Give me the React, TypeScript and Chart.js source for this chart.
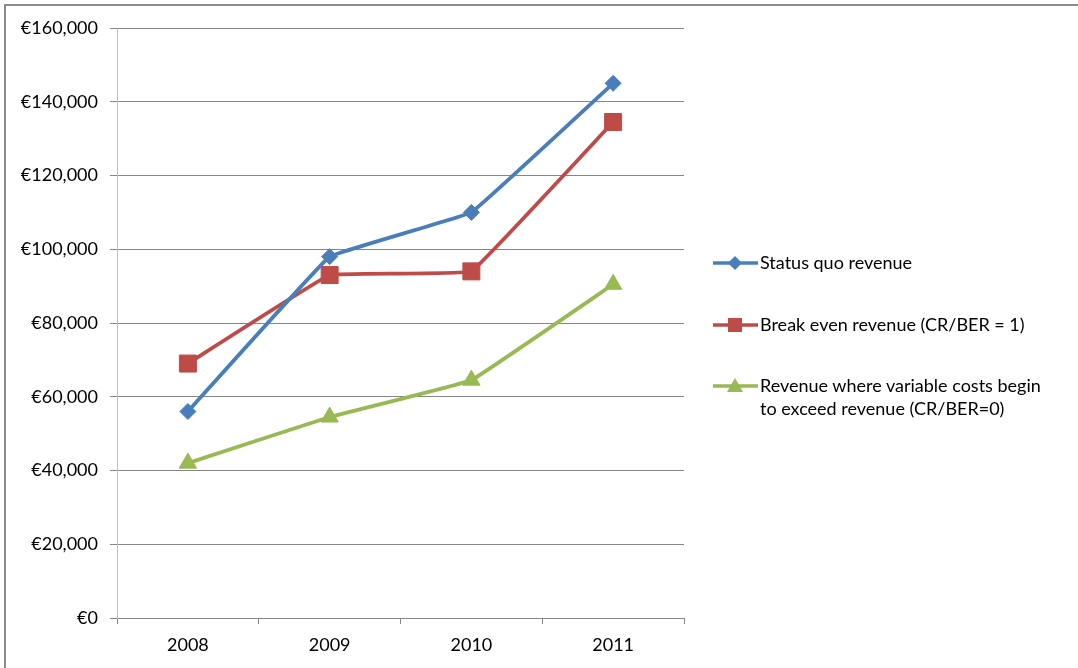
import React, { useEffect, useRef } from "react";
import { Chart, registerables } from "chart.js";

Chart.register(...registerables);

const categories = ["2008", "2009", "2010", "2011"];
const statusQuo = [56000, 98000, 110000, 145000];
const breakEven = [69000, 93000, 94000, 134500];
const variableCostsBegin = [42000, 54500, 64500, 90500];
const yTicks = [0, 20000, 40000, 60000, 80000, 100000, 120000, 140000, 160000];

const seriesNames = [
  "Status quo revenue",
  "Break even revenue (CR/BER = 1)",
  "Revenue where variable costs begin to exceed revenue (CR/BER=0)",
];
const colors = ["#4a7ebb", "#be4b48", "#98b954"];
const FONT = "Lato, 'Open Sans', sans-serif";

function LegendMarker({ kind, color }: { kind: string; color: string }) {
  return (
    <svg width={47} height={20} style={{ display: "block" }}>
      <line x1={0} y1={10} x2={45} y2={10} stroke={color} strokeWidth={3.5} />
      {kind === "diamond" && <polygon points="22,3 29,10 22,17 15,10" fill={color} />}
      {kind === "square" && <rect x={15} y={3} width={14} height={14} fill={color} />}
      {kind === "triangle" && <polygon points="22,2 30,16 14,16" fill={color} />}
    </svg>
  );
}

export default function App() {
  const canvasRef = useRef<HTMLCanvasElement | null>(null);

  useEffect(() => {
    document.body.style.margin = "0";
    const canvas = canvasRef.current;
    if (!canvas) return;
    const chart = new Chart(canvas, {
      type: "line",
      data: {
        labels: categories,
        datasets: [
          {
            label: seriesNames[0],
            data: statusQuo,
            borderColor: colors[0],
            backgroundColor: colors[0],
            borderWidth: 3.8,
            pointStyle: "rectRot",
            pointRadius: 8,
            pointBorderWidth: 1,
            tension: 0.05,
          },
          {
            label: seriesNames[1],
            data: breakEven,
            borderColor: colors[1],
            backgroundColor: colors[1],
            borderWidth: 3.8,
            pointStyle: "rect",
            pointRadius: 12,
            pointBorderWidth: 1,
            tension: 0.05,
          },
          {
            label: seriesNames[2],
            data: variableCostsBegin,
            borderColor: colors[2],
            backgroundColor: colors[2],
            borderWidth: 3.8,
            pointStyle: "triangle",
            pointRadius: 10,
            pointBorderWidth: 1,
            tension: 0.05,
          },
        ],
      },
      options: {
        responsive: false,
        animation: false,
        layout: { padding: { left: 0, right: 394, top: 28, bottom: 0 } },
        plugins: { legend: { display: false }, tooltip: { enabled: false } },
        scales: {
          x: {
            offset: true,
            grid: {
              offset: true,
              drawOnChartArea: false,
              drawTicks: true,
              tickLength: 6,
              color: "#868686",
            },
            border: { display: true, color: "#868686" },
            ticks: {
              padding: 10,
              color: "#000",
              font: { family: FONT, size: 18 },
            },
            afterFit: (s: any) => {
              s.height = 50;
            },
          },
          y: {
            min: yTicks[0],
            max: yTicks[yTicks.length - 1],
            afterBuildTicks: (s: any) => {
              s.ticks = yTicks.map((v) => ({ value: v }));
            },
            grid: { color: "#868686", tickLength: 7 },
            border: { display: true, color: "#bfbfbf" },
            ticks: {
              padding: 12,
              color: "#000",
              font: { family: FONT, size: 18 },
              callback: (v: any) => "€" + Number(v).toLocaleString("en-US"),
            },
            afterFit: (s: any) => {
              s.width = 117;
            },
          },
        },
      },
    });
    return () => chart.destroy();
  }, []);

  const kinds = ["diamond", "square", "triangle"];
  const legendTops = [251, 313, 374];

  return (
    <div
      style={{
        position: "fixed",
        left: 0,
        top: 0,
        width: 1078,
        height: 668,
        background: "#fff",
        overflow: "hidden",
      }}
    >
      <div
        style={{
          position: "absolute",
          left: 4,
          top: 4,
          width: 1078,
          height: 668,
          borderTop: "2px solid #8c8c8c",
          borderLeft: "2px solid #8c8c8c",
          boxSizing: "border-box",
        }}
      />
      <canvas ref={canvasRef} width={1078} height={668} style={{ position: "absolute", left: 0, top: 0 }} />
      {seriesNames.map((name, i) => (
        <div
          key={name}
          style={{
            position: "absolute",
            left: 713,
            top: legendTops[i],
            display: "flex",
            alignItems: "flex-start",
            fontFamily: FONT,
            fontSize: 18,
            lineHeight: "23px",
            color: "#000",
          }}
        >
          <div style={{ paddingTop: 2 }}>
            <LegendMarker kind={kinds[i]} color={colors[i]} />
          </div>
          <div style={{ width: 340 }}>
            {i === 2 ? (
              <>
                Revenue where variable costs begin
                <br />
                to exceed revenue (CR/BER=0)
              </>
            ) : (
              name
            )}
          </div>
        </div>
      ))}
    </div>
  );
}
